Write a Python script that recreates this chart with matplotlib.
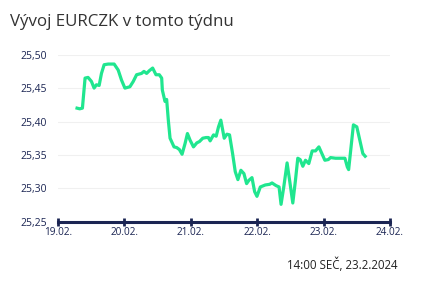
import matplotlib
matplotlib.use("Agg")
import matplotlib.pyplot as plt
import numpy as np

# days since 19.02. 00:00
days = [0.287, 0.327, 0.368, 0.408, 0.453, 0.504, 0.544, 0.579, 0.620, 0.655, 0.695,
        0.756, 0.846, 0.907, 0.957, 1.008, 1.083, 1.134, 1.184, 1.259, 1.295, 1.335,
        1.375, 1.426, 1.476, 1.526, 1.562, 1.572, 1.612, 1.637, 1.662, 1.688, 1.748,
        1.788, 1.829, 1.869, 1.914, 1.950, 1.990, 2.041, 2.091, 2.131, 2.181, 2.232,
        2.257, 2.267, 2.292, 2.343, 2.383, 2.418, 2.453, 2.504, 2.544, 2.584, 2.630,
        2.670, 2.710, 2.755, 2.801, 2.841, 2.876, 2.922, 2.962, 2.997, 3.048, 3.123,
        3.189, 3.224, 3.285, 3.330, 3.360, 3.401, 3.451, 3.496, 3.537, 3.577, 3.612,
        3.648, 3.688, 3.728, 3.778, 3.829, 3.879, 3.930, 4.020, 4.071, 4.106, 4.181,
        4.232, 4.322, 4.358]
values = [25.420, 25.419, 25.420, 25.465, 25.466, 25.460, 25.450, 25.455, 25.454, 25.472,
          25.485, 25.486, 25.486, 25.477, 25.462, 25.450, 25.452, 25.460, 25.470, 25.472,
          25.475, 25.472, 25.476, 25.480, 25.470, 25.470, 25.465, 25.447, 25.430, 25.433,
          25.402, 25.375, 25.362, 25.361, 25.358, 25.351, 25.367, 25.382, 25.372, 25.362,
          25.368, 25.370, 25.375, 25.376, 25.376, 25.376, 25.371, 25.380, 25.378, 25.392,
          25.402, 25.375, 25.381, 25.380, 25.352, 25.325, 25.313, 25.327, 25.322, 25.307,
          25.312, 25.316, 25.295, 25.288, 25.302, 25.305, 25.306, 25.308, 25.304, 25.302,
          25.276, 25.302, 25.338, 25.307, 25.278, 25.312, 25.345, 25.343, 25.333, 25.342,
          25.337, 25.356, 25.356, 25.362, 25.342, 25.343, 25.346, 25.345, 25.345, 25.345,
          25.332]
tail_days = [4.378, 4.450, 4.501, 4.592, 4.627]
tail_values = [25.328, 25.395, 25.392, 25.352, 25.348]
days = days + tail_days
values = values + tail_values

yticks = [25.25, 25.30, 25.35, 25.40, 25.45, 25.50]
ytick_labels = ["25,25", "25,30", "25,35", "25,40", "25,45", "25,50"]
xticks = [0, 1, 2, 3, 4, 5]
xtick_labels = ["19.02.", "20.02.", "21.02.", "22.02.", "23.02.", "24.02."]

title = "Vývoj EURCZK v tomto týdnu"
footer = "14:00 SEČ, 23.2.2024"

navy = "#1b2553"
green = "#20e68f"

plt.rcParams['font.family'] = ['Open Sans', 'DejaVu Sans']
fig = plt.figure(figsize=(4.22, 2.83), dpi=100)
ax = fig.add_axes([0.1374, 0.2166, 0.7866, 0.5901])
ax.plot(days, values, color=green, lw=2.3, solid_joinstyle='round', zorder=3)
ax.set_xlim(0, 5)
ax.set_ylim(25.25, 25.50)
ax.set_yticks(yticks)
ax.set_yticklabels(ytick_labels)
ax.set_xticks(xticks)
ax.set_xticklabels(xtick_labels)
for y in yticks[1:]:
    ax.axhline(y, color="#f0f0f0", lw=0.8, zorder=1)
for s in ["top", "right", "left"]:
    ax.spines[s].set_visible(False)
ax.spines["bottom"].set_color(navy)
ax.spines["bottom"].set_linewidth(2.2)
ax.spines["bottom"].set_zorder(4)
ax.tick_params(axis="x", direction="inout", length=6, width=2, color=navy,
               labelcolor=navy, labelsize=7.2, pad=1)
ax.tick_params(axis="y", length=0, labelcolor=navy, labelsize=7.5, pad=8)
fig.text(0.024, 0.922, title, fontsize=12.2, color="#333333", va="center", ha="left")
fig.text(0.943, 0.063, footer, fontsize=8.3, color="#222222", va="center", ha="right")
fig.savefig("out.png", dpi=100)
